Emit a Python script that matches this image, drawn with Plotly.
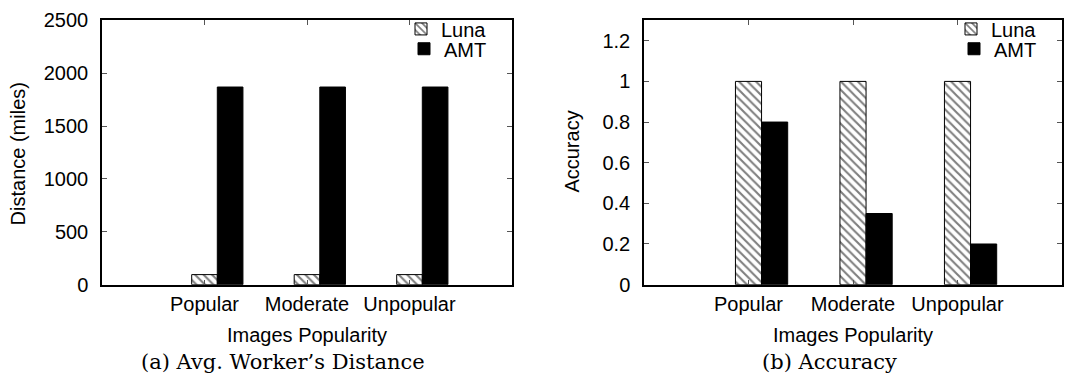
import plotly.graph_objects as go

# ---- data ----
categories = ["Popular", "Moderate", "Unpopular"]
luna_distance = [95, 95, 95]
amt_distance = [1870, 1870, 1870]
luna_accuracy = [1.0, 1.0, 1.0]
amt_accuracy = [0.8, 0.35, 0.2]
distance_ticks = [0, 500, 1000, 1500, 2000, 2500]
accuracy_ticks = [0, 0.2, 0.4, 0.6, 0.8, 1.0, 1.2]
accuracy_ticktext = ["0", "0.2", "0.4", "0.6", "0.8", "1", "1.2"]

W, H = 1070, 390
SANS = "Liberation Sans, Arial, Helvetica, sans-serif"
SERIF = "DejaVu Serif, serif"

luna_pattern = dict(shape="\\", fgcolor="black", bgcolor="white", size=6, solidity=0.35)

fig = go.Figure()

def add_pair(luna, amt, xa, ya, leg_luna, leg_amt):
    fig.add_trace(go.Bar(
        x=categories, y=luna, name="Luna", xaxis=xa, yaxis=ya, legend=leg_luna,
        width=0.25, offset=-0.125,
        marker=dict(color="white", pattern=luna_pattern, line=dict(color="black", width=1)),
    ))
    fig.add_trace(go.Bar(
        x=categories, y=amt, name="AMT", xaxis=xa, yaxis=ya, legend=leg_amt,
        width=0.25, offset=0.125,
        marker=dict(color="black", line=dict(color="black", width=1)),
    ))

add_pair(luna_distance, amt_distance, "x", "y", "legend", "legend3")
add_pair(luna_accuracy, amt_accuracy, "x2", "y2", "legend2", "legend4")

def px_x(p):
    return p / W

def px_y(p):
    return 1 - p / H

axis_common = dict(
    showline=True, linecolor="black", linewidth=1.5, mirror="allticks",
    ticks="inside", ticklen=5, tickwidth=1, tickcolor="#555",
    showgrid=False, zeroline=False, ticklabeloverflow="allow",
    tickfont=dict(family=SANS, size=20, color="black"),
    fixedrange=True,
)

left_dom = [px_x(102), px_x(512)]
right_dom = [px_x(644), px_x(1062)]
y_dom = [px_y(290), px_y(10)]

def leg(xr, yc):
    return dict(x=px_x(xr), y=px_y(yc), xanchor="right", yanchor="middle",
                bgcolor="rgba(0,0,0,0)", borderwidth=0,
                font=dict(family=SANS, size=20, color="black"))

fig.update_layout(
    width=W, height=H,
    margin=dict(l=0, r=0, t=0, b=0),
    paper_bgcolor="white", plot_bgcolor="white",
    barmode="overlay",
    showlegend=True,
    xaxis=dict(axis_common, domain=left_dom, anchor="y", type="category",
               categoryorder="array", categoryarray=categories,
               range=[-1, 3], ticklabelstandoff=1),
    yaxis=dict(axis_common, domain=y_dom, anchor="x", range=[0, 2500],
               tickvals=distance_ticks, ticklabelstandoff=8),
    xaxis2=dict(axis_common, domain=right_dom, anchor="y2", type="category",
                categoryorder="array", categoryarray=categories,
                range=[-1, 3], ticklabelstandoff=1),
    yaxis2=dict(axis_common, domain=y_dom, anchor="x2", range=[0, 1.3],
                tickvals=accuracy_ticks, ticktext=accuracy_ticktext, ticklabelstandoff=8),
    legend=leg(492, 19),
    legend3=leg(492, 40),
    legend2=leg(1042, 19),
    legend4=leg(1042, 40),
)

annotations = [
    dict(text="Distance (miles)", x=px_x(18), y=px_y(152), textangle=-90),
    dict(text="Accuracy", x=px_x(572), y=px_y(149), textangle=-90),
    dict(text="Images Popularity", x=px_x(307), y=px_y(343)),
    dict(text="Images Popularity", x=px_x(853), y=px_y(343)),
]
for a in annotations:
    fig.add_annotation(xref="paper", yref="paper", showarrow=False,
                       xanchor="center", yanchor="middle",
                       font=dict(family=SANS, size=20, color="black"), **a)

captions = [
    dict(text="(a) Avg. Worker’s Distance", x=px_x(283), y=px_y(372)),
    dict(text="(b) Accuracy", x=px_x(829), y=px_y(372)),
]
for a in captions:
    fig.add_annotation(xref="paper", yref="paper", showarrow=False,
                       xanchor="center", yanchor="middle",
                       font=dict(family=SERIF, size=21, color="black"), **a)

fig.write_html("out.html")
